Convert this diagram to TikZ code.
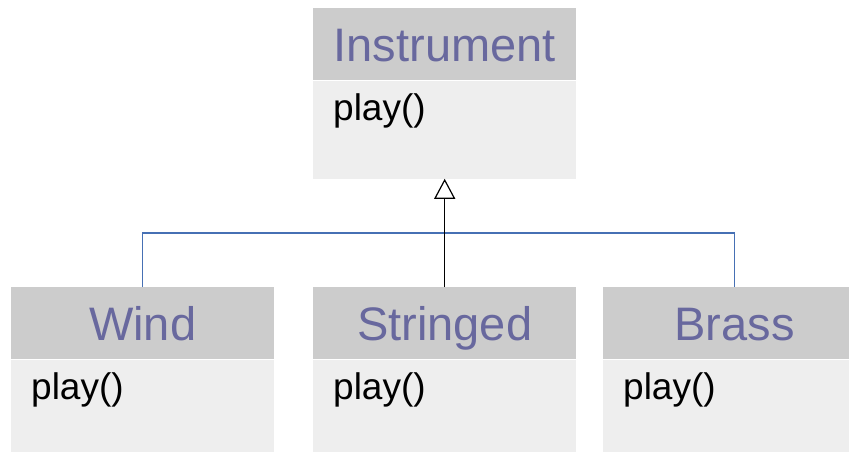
\documentclass[tikz,border=0pt]{standalone}
\usepackage{fontspec}
\setmainfont{Liberation Sans}
\usetikzlibrary{arrows.meta}
\definecolor{headgray}{RGB}{204,204,204}
\definecolor{bodygray}{RGB}{238,238,238}
\definecolor{titleblue}{RGB}{104,104,158}
\definecolor{linkblue}{RGB}{70,112,180}

\begin{document}
\begin{tikzpicture}[x=1pt,y=-1pt,
    classhead/.style={rectangle,fill=headgray,minimum width=263pt,minimum height=72pt,
        inner sep=0pt,anchor=north west,text=titleblue,
        font=\fontsize{47}{47}\selectfont,text height=34pt,text depth=0pt},
    classbody/.style={rectangle,fill=bodygray,minimum width=263pt,minimum height=98pt,
        inner sep=0pt,anchor=north west},
    classop/.style={anchor=base west,inner sep=0pt,xshift=20pt,yshift=-40pt,
        font=\fontsize{37}{37}\selectfont},
    extends/.style={line width=1.2pt,-{Triangle[open,length=20pt,width=21pt,line width=1.2pt]}},
    buslink/.style={draw=linkblue,line width=1.4pt}]
                \useasboundingbox (0,0) rectangle (849,451);
                \clip (0,0) rectangle (849,451);

                % base class
                \node[classhead] (instr) at (313,8) {Instrument};
                \node[classbody] (instr-body) at (instr.south west) {};
                \node[classop] (instr-op) at (instr-body.north west) {play()};

                % sub classes
                \node[classhead] (wind) at (11,287) {Wind};
                \node[classbody] (wind-body) at (wind.south west) {};
                \node[classop] (wind-op) at (wind-body.north west) {play()};

                \node[classhead] (string) at (313,287) {Stringed};
                \node[classbody] (string-body) at (string.south west) {};
                \node[classop] (string-op) at (string-body.north west) {play()};

                \node[classhead] (brass) at (603,287) {Brass};
                \node[classbody] (brass-body) at (brass.south west) {};
                \node[classop] (brass-op) at (brass-body.north west) {play()};

                % links
                \coordinate (bus) at (444,233);
                \draw[buslink] (wind.north) |- (bus) -| (brass.north);
                \draw[extends] (string.north) -- (instr-body.south);
            \end{tikzpicture}
\end{document}
